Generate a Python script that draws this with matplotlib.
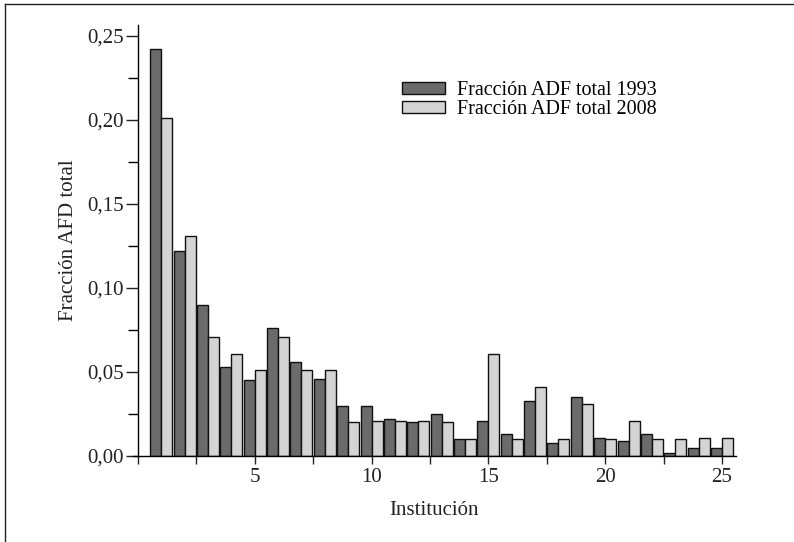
import matplotlib
matplotlib.use("Agg")
import matplotlib.pyplot as plt
from matplotlib.lines import Line2D
from matplotlib.ticker import MultipleLocator, FuncFormatter
import numpy as np

plt.rcParams['font.family'] = ['Liberation Serif', 'DejaVu Serif']

institutions = list(range(1, 26))
frac_1993 = [0.242, 0.122, 0.090, 0.053, 0.045, 0.076, 0.056, 0.046, 0.030, 0.030,
             0.022, 0.020, 0.025, 0.010, 0.021, 0.013, 0.033, 0.008, 0.035, 0.011,
             0.009, 0.013, 0.002, 0.005, 0.005]
frac_2008 = [0.201, 0.131, 0.071, 0.061, 0.051, 0.071, 0.051, 0.051, 0.020, 0.021,
             0.021, 0.021, 0.020, 0.010, 0.061, 0.010, 0.041, 0.010, 0.031, 0.010,
             0.021, 0.010, 0.010, 0.011, 0.011]
labels = ["Fracción ADF total 1993", "Fracción ADF total 2008"]
xlabel = "Institución"
ylabel = "Fracción AFD total"

W, H = 794, 542
fig = plt.figure(figsize=(W / 100, H / 100), dpi=100)
x0, x1 = 133, 736
y0, y1 = 25, 456
ax = fig.add_axes([x0 / W, 1 - y1 / H, (x1 - x0) / W, (y1 - y0) / H])

x = np.array(institutions, dtype=float)
bw = 0.47
ax.bar(x - bw / 2, frac_1993, width=bw, color='#6b6b6b', edgecolor='#111111',
       linewidth=1.0, label=labels[0])
ax.bar(x + bw / 2, frac_2008, width=bw, color='#d4d4d4', edgecolor='#111111',
       linewidth=1.0, label=labels[1])

ax.set_xlim(-0.21, 25.6)
ax.set_ylim(0, 0.2565)
ax.spines['left'].set_position(('data', 0))
ax.spines['top'].set_visible(False)
ax.spines['right'].set_visible(False)
for s in ('left', 'bottom'):
    ax.spines[s].set_linewidth(1.0)

ax.xaxis.set_major_locator(MultipleLocator(5))
ax.xaxis.set_minor_locator(MultipleLocator(2.5))
ax.xaxis.set_major_formatter(FuncFormatter(lambda v, p: '' if v == 0 else f"{int(v)}"))
ax.yaxis.set_major_locator(MultipleLocator(0.05))
ax.yaxis.set_minor_locator(MultipleLocator(0.025))
ax.yaxis.set_major_formatter(FuncFormatter(lambda v, p: f"{v:.2f}".replace('.', ',')))

ax.tick_params(axis='x', which='both', direction='out', length=6, width=1.0,
               labelsize=15, pad=3, colors='#222222')
ax.tick_params(axis='y', which='major', direction='out', length=9, width=1.0,
               labelsize=15, pad=1, colors='#222222')
ax.tick_params(axis='y', which='minor', direction='out', length=7, width=1.0)

ax.set_xlabel(xlabel, fontsize=15, color='#222222', labelpad=10)
ax.set_ylabel(ylabel, fontsize=15, color='#222222', labelpad=7)

ax.legend(loc='upper left', bbox_to_anchor=((402 - x0) / (x1 - x0), 1 - (81 - y0) / (y1 - y0)),
          frameon=False, fontsize=14.5, handlelength=2.15, handleheight=0.55,
          handletextpad=0.6, labelspacing=0.02, borderaxespad=0, borderpad=0)

fig.add_artist(Line2D([4.5 / W, 4.5 / W], [0, 1 - 3.5 / H], color='#222222', lw=1.0))
fig.add_artist(Line2D([4.5 / W, 1], [1 - 3.5 / H, 1 - 3.5 / H], color='#222222', lw=1.0))

fig.savefig('out.png', dpi=100)
